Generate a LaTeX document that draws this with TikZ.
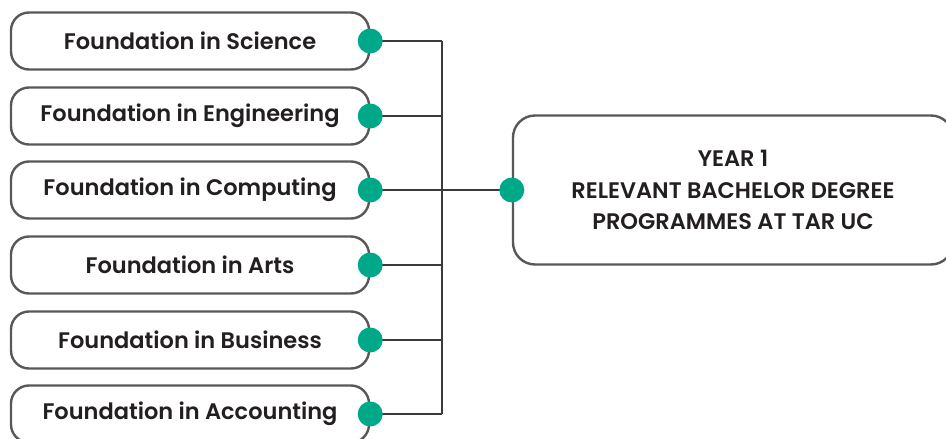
\documentclass[tikz,border=0pt]{standalone}
\usepackage{fontspec}
\setmainfont{Poppins}[UprightFont={* SemiBold},BoldFont={* Bold}]
\begin{document}
\begin{tikzpicture}[x=1pt,y=-1pt,
  fbox/.style={draw=boxgray,line width=2.4pt,rounded corners=18pt,minimum width=358pt,minimum height=57pt,inner sep=0pt,font=\fontsize{22.5}{26}\selectfont,text=txt},
  bigbox/.style={draw=boxgray,line width=2.4pt,rounded corners=22pt,minimum width=440pt,minimum height=149pt,inner sep=0pt,align=center,font=\fontsize{22.5}{31.5}\selectfont,text=txt},
  dot/.style={circle,fill=teal1,minimum size=25pt,inner sep=0pt},
  conn/.style={draw=linegray,line width=2.4pt}]
\definecolor{boxgray}{HTML}{585858}
\definecolor{linegray}{HTML}{3A3A3A}
\definecolor{txt}{HTML}{231F20}
\definecolor{teal1}{HTML}{00A88A}
\useasboundingbox (0,0) rectangle (946,439);
\node[fbox] (f1) at (190,41) {Foundation in Science};
\node[fbox] (f2) at (190,116) {Foundation in Engineering};
\node[fbox] (f3) at (190,190) {Foundation in Computing};
\node[fbox] (f4) at (190,265) {Foundation in Arts};
\node[fbox] (f5) at (190,340) {Foundation in Business};
\node[fbox] (f6) at (190,414) {Foundation in Accounting};
\node[bigbox] (y1) at (733,190) {YEAR 1\\RELEVANT BACHELOR DEGREE\\PROGRAMMES AT TAR UC};
\coordinate (bus) at (442,190);
\foreach \i in {1,...,6}{
  \draw[conn] (f\i.east) -- (f\i.east -| bus);
}
\draw[conn] (f1.east -| bus) -- (f6.east -| bus);
\draw[conn] (bus) -- (y1.west);
\foreach \i in {1,...,6}{
  \node[dot] (d\i) at (f\i.east) {};
}
\node[dot] (dy) at (y1.west) {};
\end{tikzpicture}
\end{document}
